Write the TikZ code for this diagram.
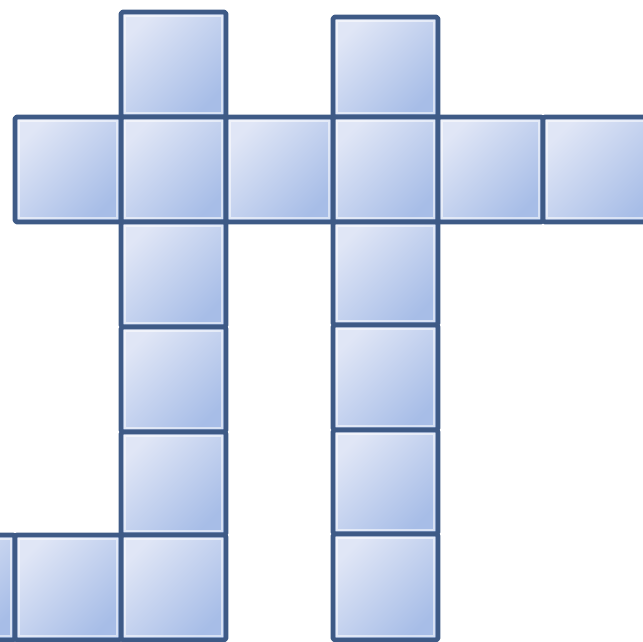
\documentclass[tikz,border=0pt]{standalone}
\usepackage{tikz}

\definecolor{celledge}{HTML}{3E5A86}
\definecolor{celllight}{HTML}{E0E6F6}
\definecolor{celldark}{HTML}{A7BDE7}

\begin{document}
\begin{tikzpicture}[
    x=0.02cm, y=0.02cm,
    cell/.style={draw=celledge, line width=2.7pt, line join=round, rounded corners=1pt,
        top color=celllight, bottom color=celldark, shading angle=45},
    glint/.style={draw=white, opacity=0.55, line width=0.7pt}
]
    \def\H{642} % picture height in px
    \clip (0,0) rectangle (643,\H);
    \useasboundingbox (0,0) rectangle (643,\H);
    % cells: left, top, right, bottom (px from top left)
    \foreach \l/\t/\r/\b in {
        121/12/226/117, 121/117/226/222, 121/222/226/327, 121/327/226/432,
        121/432/226/535, 121/535/226/640,
        333/17/438/117, 333/117/438/222, 333/222/438/325, 333/325/438/430,
        333/430/438/534, 333/534/438/640,
        15/117/121/222, 226/117/333/222, 438/117/543/222, 543/117/660/222,
        -90/535/15/640, 15/535/121/640}
    {
        \path[cell] (\l,\H-\t) rectangle (\r,\H-\b);
        \draw[glint] (\l+4,\H-\t-4) rectangle (\r-4,\H-\b+4);
    }
\end{tikzpicture}
\end{document}
